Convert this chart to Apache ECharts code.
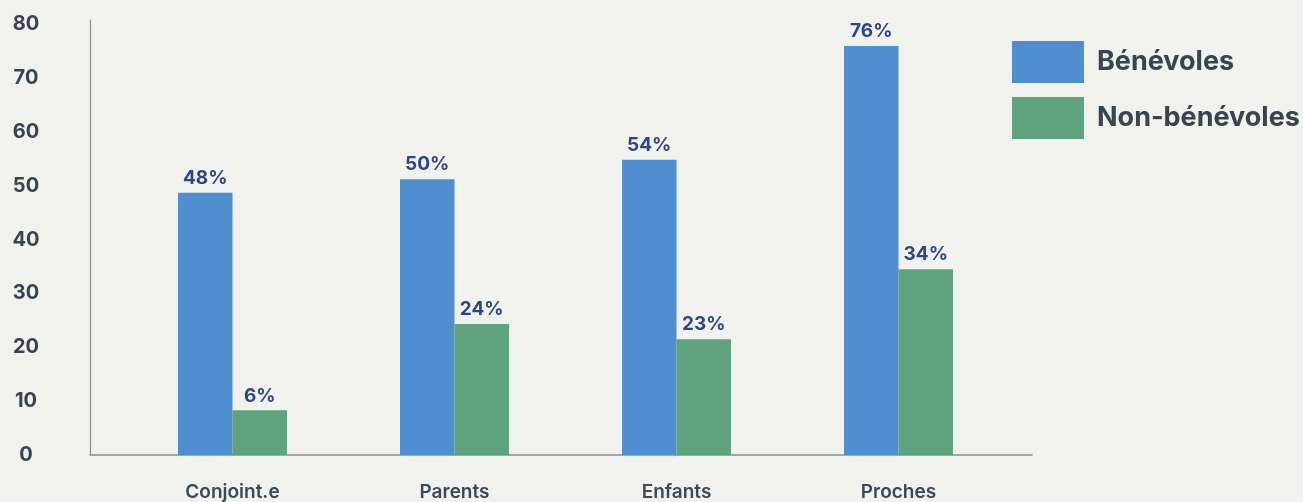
<!DOCTYPE html>
<html>
<head>
<meta charset="utf-8">
<script src="https://cdn.jsdelivr.net/npm/echarts@6/dist/echarts.min.js"></script>
<style>
html,body{margin:0;padding:0;background:#f1f1ee;}
#chart{width:1303px;height:502px;}
</style>
</head>
<body>
<div id="chart"></div>
<script>
const categories = ['Conjoint.e', 'Parents', 'Enfants', 'Proches'];
const seriesNames = ['Bénévoles', 'Non-bénévoles'];
const benevoles = [48.7, 51.2, 54.8, 75.9];
const nonBenevoles = [8.3, 24.3, 21.5, 34.5];
const benevolesLabels = ['48%', '50%', '54%', '76%'];
const nonBenevolesLabels = ['6%', '24%', '23%', '34%'];
const yTicks = [0, 10, 20, 30, 40, 50, 60, 70, 80];

const FONT = 'Inter, "Noto Sans", sans-serif';
const chart = echarts.init(document.getElementById('chart'), null, {renderer: 'canvas'});

function labelCfg(arr) {
  return {
    show: true,
    position: 'top',
    distance: 5,
    color: '#2e4784',
    fontFamily: FONT,
    fontWeight: 'bold',
    fontSize: 19,
    formatter: p => arr[p.dataIndex]
  };
}

chart.setOption({
  backgroundColor: '#f1f1ee',
  animation: false,
  legend: {
    orient: 'vertical',
    left: 1012,
    top: 41,
    padding: 0,
    itemWidth: 72,
    itemHeight: 42,
    itemGap: 14,
    icon: 'rect',
    data: seriesNames,
    textStyle: {
      fontFamily: FONT,
      fontWeight: 'bold',
      fontSize: 27,
      color: '#36454f',
      padding: [0, 0, 0, 8]
    }
  },
  grid: [
    {left: 121.5, width: 888, top: 24, height: 431},
    {left: 90, width: 942, top: 20, height: 435}
  ],
  xAxis: [
    {
      type: 'category',
      gridIndex: 0,
      data: categories,
      axisLine: {show: false},
      axisTick: {show: false},
      axisLabel: {
        margin: 28,
        fontFamily: FONT,
        fontWeight: 600,
        fontSize: 19,
        color: '#3b4a58'
      }
    },
    {
      type: 'category',
      gridIndex: 1,
      data: [''],
      axisLine: {show: true, lineStyle: {color: '#8a8f94', width: 1.5}},
      axisTick: {show: false},
      axisLabel: {show: false}
    }
  ],
  yAxis: [
    {
      type: 'value',
      gridIndex: 0,
      min: yTicks[0],
      max: yTicks[yTicks.length - 1],
      interval: 10,
      axisLine: {show: false},
      axisTick: {show: false},
      splitLine: {show: false},
      axisLabel: {
        margin: 95.5,
        align: 'center',
        padding: [0, 0, 4, 0],
        fontFamily: FONT,
        fontWeight: 'bold',
        fontSize: 20,
        color: '#36454f'
      }
    },
    {
      type: 'value',
      gridIndex: 1,
      min: 0,
      max: 1,
      axisLine: {show: true, lineStyle: {color: '#8a8f94', width: 1.2}},
      axisTick: {show: false},
      splitLine: {show: false},
      axisLabel: {show: false}
    }
  ],
  series: [
    {
      name: seriesNames[0],
      type: 'bar',
      xAxisIndex: 0,
      yAxisIndex: 0,
      data: benevoles,
      barWidth: 54.5,
      barGap: '0%',
      itemStyle: {color: '#4f8fcf'},
      label: labelCfg(benevolesLabels)
    },
    {
      name: seriesNames[1],
      type: 'bar',
      xAxisIndex: 0,
      yAxisIndex: 0,
      data: nonBenevoles,
      barWidth: 54.5,
      barGap: '0%',
      itemStyle: {color: '#5ea37e'},
      label: labelCfg(nonBenevolesLabels)
    }
  ]
});
</script>
</body>
</html>
